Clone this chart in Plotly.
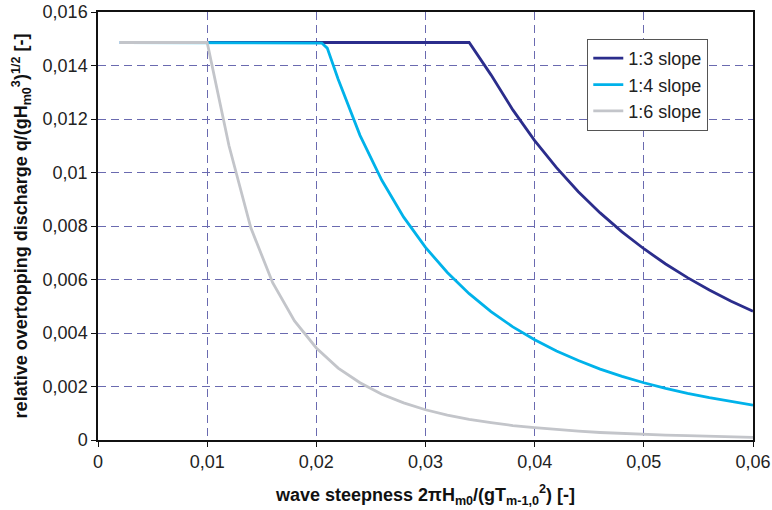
import plotly.graph_objects as go

# wave steepness values (x) per series
x_13 = [0.002, 0.004, 0.006, 0.008, 0.010, 0.012, 0.014, 0.016, 0.018, 0.020,
        0.022, 0.024, 0.026, 0.028, 0.030, 0.032, 0.034, 0.036, 0.038, 0.040,
        0.042, 0.044, 0.046, 0.048, 0.050, 0.052, 0.054, 0.056, 0.058, 0.060]
q_13 = [0.01486, 0.01486, 0.01486, 0.01486, 0.01486, 0.01486, 0.01486, 0.01486, 0.01486, 0.01486,
        0.01486, 0.01486, 0.01486, 0.01486, 0.01486, 0.01486, 0.01486, 0.01365, 0.01234, 0.01119,
        0.01018, 0.00928, 0.00849, 0.00778, 0.00715, 0.00658, 0.00607, 0.00561, 0.00519, 0.00481]

x_14 = [0.002, 0.004, 0.006, 0.008, 0.010, 0.012, 0.014, 0.016, 0.018, 0.020, 0.0205, 0.021,
        0.022, 0.024, 0.026, 0.028, 0.030, 0.032, 0.034, 0.036, 0.038, 0.040,
        0.042, 0.044, 0.046, 0.048, 0.050, 0.052, 0.054, 0.056, 0.058, 0.060]
q_14 = [0.01486, 0.01486, 0.01486, 0.01486, 0.01486, 0.01486, 0.01486, 0.01486, 0.01486, 0.01486, 0.01484, 0.01465,
        0.01349, 0.01139, 0.00971, 0.00833, 0.00720, 0.00626, 0.00547, 0.00480, 0.00423, 0.00375,
        0.00333, 0.00297, 0.00265, 0.00238, 0.00214, 0.00193, 0.00174, 0.00158, 0.00143, 0.00130]

x_16 = [0.002, 0.004, 0.006, 0.008, 0.010, 0.012, 0.014, 0.016, 0.018, 0.020,
        0.022, 0.024, 0.026, 0.028, 0.030, 0.032, 0.034, 0.036, 0.038, 0.040,
        0.042, 0.044, 0.046, 0.048, 0.050, 0.052, 0.054, 0.056, 0.058, 0.060]
q_16 = [0.01486, 0.01486, 0.01486, 0.01486, 0.01486, 0.01100, 0.00793, 0.00588, 0.00445, 0.00344,
        0.00269, 0.00214, 0.00171, 0.00139, 0.00113, 0.00093, 0.00077, 0.00065, 0.00054, 0.00046,
        0.00039, 0.00033, 0.00028, 0.00024, 0.00021, 0.00018, 0.00016, 0.00014, 0.00012, 0.00010]

series_names = ["1:3 slope", "1:4 slope", "1:6 slope"]
series_colors = ["#2b2d8c", "#00b2ea", "#c3c5ca"]

x_ticks = [0, 0.01, 0.02, 0.03, 0.04, 0.05, 0.06]
x_tick_labels = ["0", "0,01", "0,02", "0,03", "0,04", "0,05", "0,06"]
y_ticks = [0, 0.002, 0.004, 0.006, 0.008, 0.010, 0.012, 0.014, 0.016]
y_tick_labels = ["0", "0,002", "0,004", "0,006", "0,008", "0,01", "0,012", "0,014", "0,016"]

FONT = "Liberation Sans, Arial, sans-serif"

fig = go.Figure()
for xs, ys, name, col in zip([x_13, x_14, x_16], [q_13, q_14, q_16], series_names, series_colors):
    fig.add_trace(go.Scatter(x=xs, y=ys, mode="lines", name=name,
                             line=dict(color=col, width=2.8)))

grid_col = "#6a6ab0"
fig.update_layout(
    width=772, height=510,
    margin=dict(l=98, r=19, t=12, b=70),
    paper_bgcolor="white", plot_bgcolor="white",
    font=dict(family=FONT, size=18, color="#222222"),
    showlegend=True,
    legend=dict(x=0.747, y=0.937, xanchor="left", yanchor="top",
                bgcolor="white", bordercolor="#555555", borderwidth=1,
                font=dict(family=FONT, size=18, color="#222222"),
                tracegroupgap=0, itemwidth=30),
)
fig.update_xaxes(
    range=[0, 0.06], tickvals=x_ticks, ticktext=x_tick_labels,
    showgrid=True, gridcolor=grid_col, gridwidth=1, griddash="8px,5px",
    showline=True, linecolor="#111111", linewidth=1.5, mirror=True,
    ticks="outside", ticklen=5, tickcolor="#111111",
    zeroline=False, automargin=False,
    tickfont=dict(family=FONT, size=18, color="#222222"),
    title=dict(text="<b>wave steepness 2πH<sub>m0</sub>/(gT<sub>m-1,0</sub><sup>2</sup>) [-]</b>",
               font=dict(family=FONT, size=18, color="#111111"), standoff=17),
)
fig.update_yaxes(
    range=[0, 0.016], tickvals=y_ticks, ticktext=y_tick_labels,
    showgrid=True, gridcolor=grid_col, gridwidth=1, griddash="8px,5px",
    showline=True, linecolor="#111111", linewidth=1.5, mirror=True,
    ticks="outside", ticklen=5, tickcolor="#111111",
    zeroline=False, automargin=False,
    tickfont=dict(family=FONT, size=18, color="#222222"),
    title=dict(text="<b>relative overtopping discharge q/(gH<sub>m0</sub><sup>3</sup>)<sup>1/2</sup> [-]</b>",
               font=dict(family=FONT, size=18, color="#111111"), standoff=10),
)

# remove the browser's default 8px page margin so the figure fills the window exactly
fig.write_html("out.html", config={"displayModeBar": False},
               post_script="document.body.style.margin='0';document.body.style.overflow='hidden';")
